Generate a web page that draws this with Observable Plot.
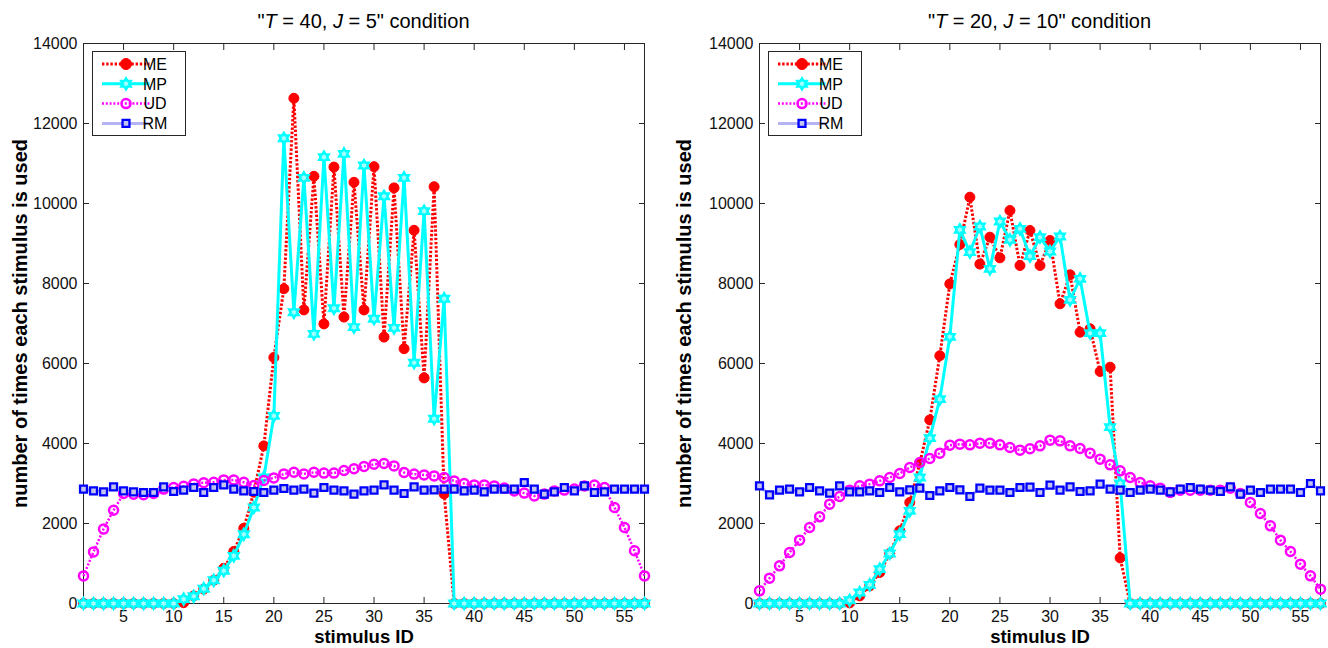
<!DOCTYPE html>
<html>
<head>
<meta charset="utf-8">
<script src="https://cdn.jsdelivr.net/npm/d3@7"></script>
<script src="https://cdn.jsdelivr.net/npm/@observablehq/plot@0.6"></script>
<style>
  html, body { margin: 0; padding: 0; background: #fff; }
  #wrap { position: relative; width: 1328px; height: 648px; background: #fff; overflow: hidden; }
  #left, #right { position: absolute; top: 0; }
  #left { left: 0; }
  #right { left: 664px; }
</style>
</head>
<body>
<div id="wrap"><div id="left"></div><div id="right"></div></div>
<script>
// ---------------- data ----------------
const stimulusIDs = d3.range(1, 58);
const xTicks = [5, 10, 15, 20, 25, 30, 35, 40, 45, 50, 55];
const yTicks = [0, 2000, 4000, 6000, 8000, 10000, 12000, 14000];
const seriesNames = ["ME", "MP", "UD", "RM"];
const xLabel = "stimulus ID";
const yLabel = "number of times each stimulus is used";

// "T = 40, J = 5" condition
const leftME = [0,0,0,0,0,0,0,0,0,0, 20,190,360,580,880,1300,1880,2780,3940,6150,
  7870,12630,7340,10680,6990,10910,7160,10530,7340,10920, 6660,10390,6370,9330,5640,10420,2740,
  0,0,0,0,0,0,0,0,0,0,0,0,0,0,0,0,0,0,0,0];
const leftMP = [0,0,0,0,0,0,0,0,0,0, 110,180,370,580,820,1190,1730,2400,3150,4690,
  11630,7280,10640,6740,11160,7380,11240,6910,10950,7120, 10180,6890,10640,6020,9810,4620,7620,
  0,0,0,0,0,0,0,0,0,0,0,0,0,0,0,0,0,0,0,0];
const leftUD = [690,1290,1860,2330,2750,2730,2720,2750,2860,2900, 2930,2990,3020,3030,3090,3090,3030,2950,3075,3140,
  3240,3280,3240,3280,3260,3260,3325,3370,3425,3480, 3500,3440,3275,3235,3215,3190,3150,3065,3000,2965,
  2965,2940,2885,2815,2760,2690,2735,2815,2835,2860, 2940,2960,2900,2400,1900,1320,690];
const leftRM = [2858,2817,2792,2917,2817,2792,2775,2775,2917,2800, 2833,2900,2775,2900,2967,2858,2817,2800,2775,2833,
  2875,2833,2858,2758,2900,2833,2817,2733,2817,2833, 2967,2833,2750,2917,2833,2842,2858,2858,2817,2833,
  2792,2858,2858,2858,3025,2858,2733,2792,2900,2817, 2942,2775,2792,2858,2858,2858,2858];

// "T = 20, J = 10" condition
const rightME = [0,0,0,0,0,0,0,0,0, 15,190,440,775,1250,1820,2525,3510,4590,6195,7990,
  8975,10158,8485,9158,8642,9825,8450,9325,8450,9075, 7492,8217,6783,6867,5800,5908,1140,
  0,0,0,0,0,0,0,0,0,0,0,0,0,0,0,0,0,0,0,0];
const rightMP = [0,0,0,0,0,0,0,0,0, 80,275,467,858,1250,1733,2317,3150,4133,5108,6667,
  9342,8783,9425,8367,9550,9092,9367,8683,9158,8800, 9175,7592,8117,6758,6758,4408,3000,
  0,0,0,0,0,0,0,0,0,0,0,0,0,0,0,0,0,0,0,0];
const rightUD = [317,633,942,1275,1583,1900,2167,2483,2675,2833, 2942,2983,3067,3150,3250,3400,3525,3625,3758,3958,
  3983,3967,4008,4008,3967,3900,3833,3870,3942,4083, 4067,3942,3875,3758,3608,3467,3317,3150,3025,2942,
  2883,2775,2833,2833,2833,2833,2833,2883,2750,2525, 2250,1942,1583,1300,983,692,358];
const rightRM = [2942,2717,2833,2858,2792,2900,2817,2758,2942,2792, 2792,2817,2775,2900,2792,2842,2883,2700,2817,2900,
  2842,2675,2883,2833,2833,2775,2900,2910,2775,2958, 2833,2917,2800,2817,2983,2858,2833,2775,2833,2858,
  2833,2792,2858,2900,2858,2833,2800,2917,2733,2833, 2775,2858,2858,2858,2775,3000,2817];

// ---------------- styles ----------------
const hexagram = {
  draw(context, size) {
    const R = Math.sqrt(size / Math.PI) * 1.3;
    const r = R / Math.sqrt(3);
    for (let i = 0; i < 12; i++) {
      const a = Math.PI / 2 + i * Math.PI / 6;
      const rad = i % 2 === 0 ? R : r;
      const x = rad * Math.cos(a), y = -rad * Math.sin(a);
      if (i === 0) context.moveTo(x, y); else context.lineTo(x, y);
    }
    context.closePath();
  }
};

const styles = {
  ME: {line: {stroke: "#ff0000", strokeWidth: 3, strokeDasharray: "2.4,1.8", strokeLinecap: "butt"},
       dot: {symbol: "circle", r: 5, fill: "#ff0000", stroke: "#ff0000", strokeWidth: 1}},
  MP: {line: {stroke: "#00ffff", strokeWidth: 3, strokeLinecap: "butt"},
       dot: {symbol: hexagram, r: 4.2, fill: "#a8ffff", stroke: "#00ffff", strokeWidth: 2.4}},
  UD: {line: {stroke: "#ff00ff", strokeWidth: 2.5, strokeDasharray: "2,1.8", strokeLinecap: "butt"},
       dot: {symbol: "circle", r: 4.5, fill: "none", stroke: "#ff00ff", strokeWidth: 2.5}},
  RM: {line: {stroke: "#b4b4f4", strokeWidth: 3, strokeLinecap: "butt"},
       dot: {symbol: "square", r: 3.9, fill: "#c4c4ec", stroke: "#0000ff", strokeWidth: 2.3}}
};

const FONT = "'Liberation Sans', Arial, Helvetica, sans-serif";
const W = 664, H = 648, MT = 43, MB = 45;

function makePanel(el, {ml, mr, tValue, jValue, data}) {
  const marks = [
    Plot.frame({stroke: "#262626", strokeWidth: 1}),
    Plot.axisX({ticks: xTicks, tickSize: -6, tickPadding: 13.5, label: null, stroke: "#262626", fill: "#111"}),
    Plot.axisX({anchor: "top", ticks: xTicks, tickSize: -6, tickFormat: () => "", label: null, stroke: "#262626"}),
    Plot.axisY({ticks: yTicks, tickSize: -6, tickPadding: 12, tickFormat: d3.format("d"), label: null, stroke: "#262626", fill: "#111"}),
    Plot.axisY({anchor: "right", ticks: yTicks, tickSize: -6, tickFormat: () => "", label: null, stroke: "#262626"})
  ];
  seriesNames.forEach((name, k) => {
    const rows = stimulusIDs.map((id, i) => ({id, value: data[k][i]}));
    marks.push(Plot.line(rows, {x: "id", y: "value", ...styles[name].line}));
    marks.push(Plot.dot(rows, {x: "id", y: "value", ...styles[name].dot}));
  });
  marks.push(Plot.text([xLabel], {frameAnchor: "bottom", dy: 34, textAnchor: "middle", lineAnchor: "middle",
    fontWeight: "bold", fontSize: 18.5, fill: "#000"}));
  marks.push(Plot.text([yLabel], {frameAnchor: "left", dx: -(ml - 20), rotate: -90, textAnchor: "middle", lineAnchor: "middle",
    fontWeight: "bold", fontSize: 20, fill: "#000"}));

  const svg = Plot.plot({
    width: W, height: H,
    marginLeft: ml, marginRight: mr, marginTop: MT, marginBottom: MB,
    x: {domain: [1, 57]},
    y: {domain: [0, 14000]},
    style: {fontFamily: FONT, fontSize: "16px", color: "#111", background: "#fff", overflow: "visible"},
    marks
  });

  const s = d3.select(svg);
  // title with italic symbols
  const t = s.append("text")
    .attr("x", (ml + (W - mr)) / 2).attr("y", 28)
    .attr("text-anchor", "middle")
    .attr("font-family", FONT).attr("font-size", 20).attr("fill", "#000");
  t.append("tspan").text("\"");
  t.append("tspan").attr("font-style", "italic").text("T");
  t.append("tspan").text(` = ${tValue}, `);
  t.append("tspan").attr("font-style", "italic").text("J");
  t.append("tspan").text(` = ${jValue}" condition`);

  // legend
  const lg = s.append("g").attr("transform", `translate(${ml + 9.5},${51.5})`);
  lg.append("rect").attr("width", 93).attr("height", 84)
    .attr("fill", "#fff").attr("stroke", "#262626").attr("stroke-width", 1);
  seriesNames.forEach((name, k) => {
    const yy = 12.5 + k * 19.8;
    const st = styles[name];
    lg.append("line").attr("x1", 9.5).attr("x2", 57).attr("y1", yy).attr("y2", yy)
      .attr("stroke", st.line.stroke).attr("stroke-width", st.line.strokeWidth)
      .attr("stroke-linecap", "butt")
      .attr("stroke-dasharray", st.line.strokeDasharray || null);
    const sym = st.dot.symbol === "circle" ? d3.symbolCircle : st.dot.symbol === "square" ? d3.symbolSquare : st.dot.symbol;
    const rr = name === "ME" ? 5.5 : st.dot.r;
    lg.append("path")
      .attr("d", d3.symbol().type(sym).size(Math.PI * rr * rr)())
      .attr("transform", `translate(33.5,${yy})`)
      .attr("fill", st.dot.fill).attr("stroke", st.dot.stroke).attr("stroke-width", st.dot.strokeWidth);
    lg.append("text").attr("x", 62.5).attr("y", yy).attr("dy", "0.36em")
      .attr("font-family", FONT).attr("font-size", 16).attr("fill", "#000").text(name);
  });

  el.appendChild(svg);
}

makePanel(document.getElementById("left"), {
  ml: 83, mr: 20, tValue: 40, jValue: 5,
  data: [leftME, leftMP, leftUD, leftRM]
});
makePanel(document.getElementById("right"), {
  ml: 95, mr: 8, tValue: 20, jValue: 10,
  data: [rightME, rightMP, rightUD, rightRM]
});
</script>
</body>
</html>
